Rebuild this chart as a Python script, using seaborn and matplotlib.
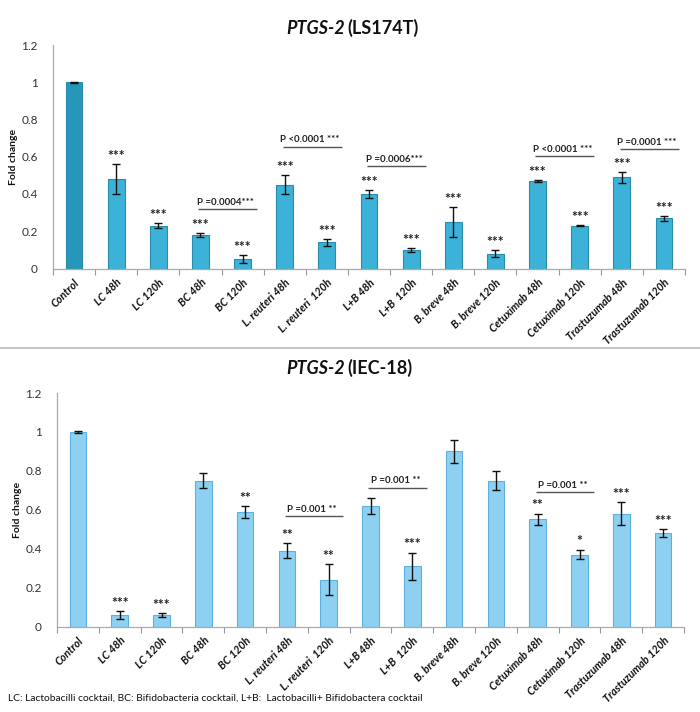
import matplotlib
matplotlib.use("Agg")
import matplotlib.pyplot as plt
import seaborn as sns
import pandas as pd
import numpy as np
from matplotlib.ticker import FuncFormatter, FixedLocator
from matplotlib.lines import Line2D

sns.set_theme(style="white")
plt.rcParams['font.family'] = ['Lato', 'DejaVu Sans']

categories = ["Control", "LC 48h", "LC 120h", "BC 48h", "BC 120h", "L. reuteri 48h",
              "L. reuteri  120h", "L+B 48h", "L+B  120h", "B. breve 48h", "B. breve 120h",
              "Cetuximab 48h", "Cetuximab 120h", "Trastuzumab 48h", "Trastuzumab 120h"]

ls174t_values = [1.00, 0.48, 0.23, 0.18, 0.05, 0.45, 0.14, 0.40, 0.10, 0.25, 0.08, 0.47, 0.23, 0.49, 0.27]
ls174t_errors = [0.003, 0.08, 0.012, 0.01, 0.02, 0.05, 0.02, 0.02, 0.01, 0.08, 0.02, 0.003, 0.003, 0.03, 0.013]
ls174t_stars = ["", "***", "***", "***", "***", "***", "***", "***", "***", "***", "***", "***", "***", "***", "***"]
# (first bar, second bar, line height, label)
ls174t_brackets = [(3, 4, 0.32, "P =0.0004***"), (5, 6, 0.655, "P <0.0001 ***"),
                   (7, 8, 0.55, "P =0.0006***"), (11, 12, 0.605, "P <0.0001 ***"),
                   (13, 14, 0.64, "P =0.0001 ***")]

iec18_values = [1.00, 0.06, 0.06, 0.75, 0.59, 0.39, 0.24, 0.62, 0.31, 0.90, 0.75, 0.55, 0.37, 0.58, 0.48]
iec18_errors = [0.003, 0.02, 0.01, 0.04, 0.03, 0.04, 0.08, 0.04, 0.07, 0.06, 0.05, 0.03, 0.025, 0.06, 0.02]
iec18_stars = ["", "***", "***", "", "**", "**", "**", "", "***", "", "", "**", "*", "***", "***"]
iec18_brackets = [(5, 6, 0.567, "P =0.001 **"), (7, 8, 0.713, "P =0.001 **"),
                  (11, 12, 0.69, "P =0.001 **")]

yticks = [0, 0.2, 0.4, 0.6, 0.8, 1.0, 1.2]

fig = plt.figure(figsize=(7.0, 7.12), dpi=100)
W, H = 700, 712


def panel(rect_px, values, errors, stars, brackets, palette, edge, gene_title, cell, title_y):
    x0, y_top, x1, y_bot = rect_px
    ax = fig.add_axes([x0 / W, 1 - y_bot / H, (x1 - x0) / W, (y_bot - y_top) / H])
    df = pd.DataFrame({"cat": categories, "val": values})
    sns.barplot(data=df, x="cat", y="val", hue="cat", palette=palette, legend=False,
                width=0.4, edgecolor=edge, linewidth=0.8, saturation=1, ax=ax)
    pos = np.arange(len(categories))
    ax.errorbar(pos, values, yerr=errors, fmt="none", ecolor="#111111",
                elinewidth=1.0, capsize=3, capthick=1.0)
    for p, v, e, s in zip(pos, values, errors, stars):
        if s:
            ax.text(p, v + e + 0.022, s, ha="center", va="baseline", fontsize=10,
                    fontweight="bold", color="#222222")
    for i, j, h, lab in brackets:
        xa, xb = i - 0.05, j + 0.35
        ax.plot([xa, xb], [h, h], color="#555555", lw=1.0, solid_capstyle="butt")
        ax.text((xa + xb) / 2 - 0.05, h + 0.012, lab, ha="center", va="bottom",
                fontsize=7, fontweight="bold", color="#222222")
    ax.set_xlim(-0.5, len(categories) - 0.5)
    ax.set_ylim(0, 1.2)
    ax.set_yticks(yticks)
    ax.yaxis.set_major_formatter(FuncFormatter(lambda v, _: "%g" % v))
    ax.set_xticks(pos)
    ax.set_xticklabels(categories, rotation=45, ha="right", rotation_mode="anchor",
                       fontsize=7.8, fontweight="bold", fontstyle="italic", color="#111111")
    ax.xaxis.set_minor_locator(FixedLocator(np.arange(-0.5, len(categories), 1.0)))
    ax.tick_params(axis="x", which="major", length=0, pad=6)
    ax.tick_params(axis="x", which="minor", length=4, width=0.8, color="#999999", direction="out")
    ax.tick_params(axis="y", length=3, width=0.8, color="#999999", labelsize=8.5,
                   labelcolor="#333333", direction="out", pad=8)
    ax.tick_params(axis="x", which="minor", bottom=True)
    ax.set_xlabel("")
    ax.set_ylabel("Fold change", fontsize=7.5, fontweight="bold", color="#111111", labelpad=2)
    for s in ["top", "right"]:
        ax.spines[s].set_visible(False)
    for s in ["left", "bottom"]:
        ax.spines[s].set_color("#aaaaaa")
        ax.spines[s].set_linewidth(0.9)
    ax.set_facecolor("white")
    fig.text(345 / W, 1 - title_y / H, gene_title, ha="right", va="center", fontsize=13,
             fontweight="bold", fontstyle="italic", color="#111111")
    fig.text(347 / W, 1 - title_y / H, cell, ha="left", va="center", fontsize=13,
             fontweight="bold", color="#111111")
    return ax


top_palette = ["#2696b9"] + ["#3cb2d8"] * 14
panel((53, 45, 685, 268.5), ls174t_values, ls174t_errors, ls174t_stars, ls174t_brackets,
      top_palette, "#2a8bab", "PTGS-2", "(LS174T)", 28)

bot_palette = ["#8dd0f2"] * 15
panel((57, 393, 684, 626.5), iec18_values, iec18_errors, iec18_stars, iec18_brackets,
      bot_palette, "#5fb0de", "PTGS-2", "(IEC-18)", 368)

fig.add_artist(Line2D([0, 1], [1 - 348 / H, 1 - 348 / H], color="#bbbbbb", lw=1.2,
                      transform=fig.transFigure))

fig.text(8 / W, 1 - 698 / H,
         "LC: Lactobacilli cocktail, BC: Bifidobacteria cocktail, L+B:  Lactobacilli+ Bifidobactera cocktail",
         ha="left", va="center", fontsize=7.4, color="#111111")

fig.savefig("out.png", dpi=100, facecolor="white")
